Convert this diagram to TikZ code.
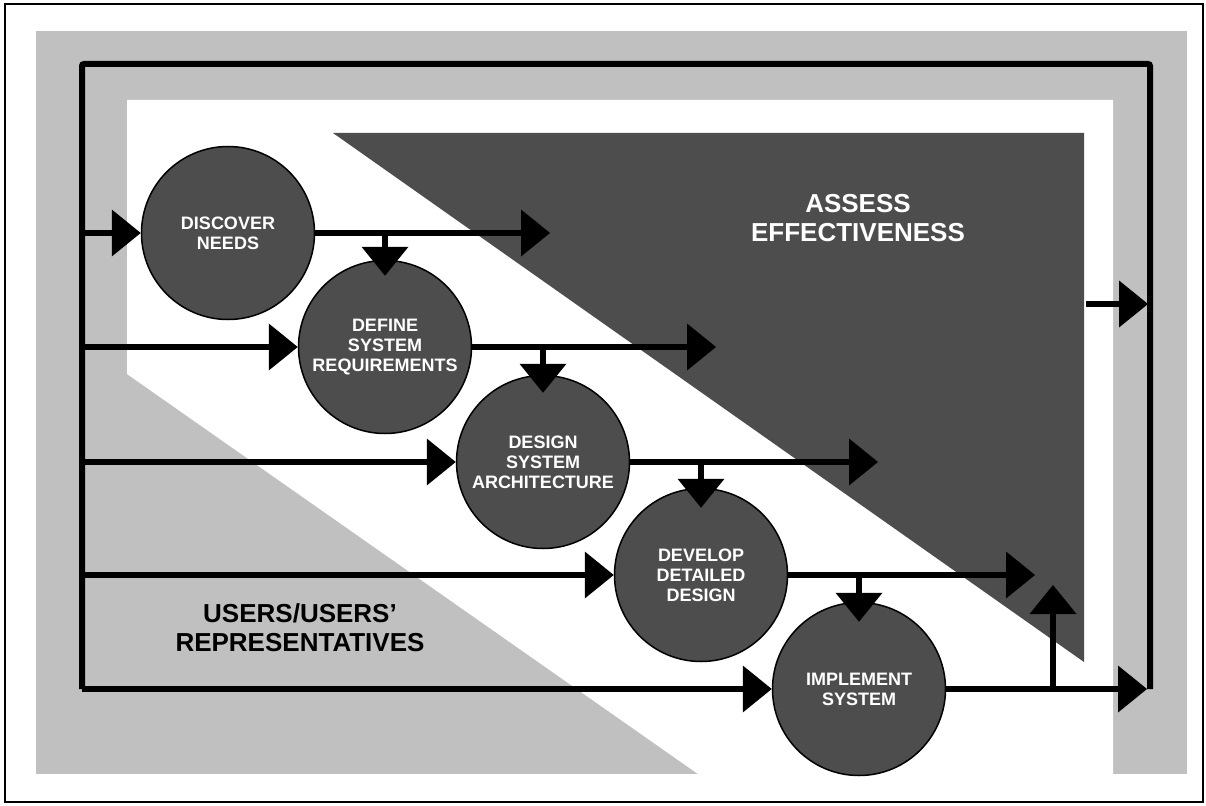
\documentclass[tikz,border=0pt]{standalone}
\usepackage{fontspec}
\setmainfont{Liberation Sans}
\usetikzlibrary{arrows.meta}
\definecolor{darkfill}{RGB}{77,77,77}
\definecolor{lightfill}{RGB}{192,192,192}
\begin{document}
\begin{tikzpicture}[x=1pt,y=-1pt,
    stage/.style={shape=circle,draw=black,line width=1.5pt,fill=darkfill,minimum size=173pt,inner sep=0pt,
        text=white,align=center,font=\bfseries\fontsize{18}{20}\selectfont},
    flow/.style={line width=6.5pt,-{Triangle[length=29pt,width=47pt,line width=0pt]}},
    bigtext/.style={align=center,font=\bfseries\fontsize{26}{29}\selectfont}]
            \useasboundingbox (0,0) rectangle (1206,805);
            \draw[line width=2pt] (5,4) rectangle (1203,802);

            % background areas
            \fill[lightfill] (36,31) rectangle (1187,774);
            \fill[white] (127,100) -- (1113,100) -- (1113,774) -- (698,774) -- (127,374) -- cycle;
            \fill[darkfill] (333,133) -- (1084,133) -- (1084,662) -- cycle;

            \node[bigtext,text=white] (AE) at (858,218) {ASSESS\\EFFECTIVENESS};
            \node[bigtext,text=black] (UR) at (300,628) {USERS/USERS'\\REPRESENTATIVES};

            % outer loop
            \coordinate (F1) at (82,689);
            \coordinate (F2) at (82,64);
            \coordinate (F3) at (1150,64);
            \coordinate (F4) at (1150,689);
            \draw[line width=6pt,rounded corners=2pt] (F1) -- (F2) -- (F3) -- (F4);

            \node[stage] (A) at (228,233) {DISCOVER\\NEEDS};
            \node[stage] (B) at (385,347) {DEFINE\\SYSTEM\\REQUIREMENTS};
            \node[stage] (C) at (543,462) {DESIGN\\SYSTEM\\ARCHITECTURE};
            \node[stage] (D) at (701,575) {DEVELOP\\DETAILED\\DESIGN};
            \node[stage] (E) at (859,689) {IMPLEMENT\\SYSTEM};

            \coordinate (I1) at (82,233);
            \coordinate (I2) at (82,347);
            \coordinate (I3) at (82,462);
            \coordinate (I4) at (82,575);
            \coordinate (O1) at (550,233);
            \coordinate (O2) at (716,347);
            \coordinate (O3) at (878,462);
            \coordinate (O4) at (1035,575);
            \coordinate (O5) at (1147,689);
            \coordinate (U1) at (1053,689);
            \coordinate (U2) at (1053,585);
            \coordinate (R1) at (1086,304);
            \coordinate (R2) at (1148,304);

            % inputs from the users
            \path[flow] (I1) edge (A.west);
            \path[flow] (I2) edge (B.west);
            \path[flow] (I3) edge (C.west);
            \path[flow] (I4) edge (D.west);
            \path[flow] (F1) edge (E.west);

            % outputs to the assessment
            \path[flow] (A.east) edge (O1);
            \path[flow] (B.east) edge (O2);
            \path[flow] (C.east) edge (O3);
            \path[flow] (D.east) edge (O4);
            \path[flow] (E.east) edge (O5);
            \path[flow] (U1) edge (U2);
            \path[flow] (R1) edge (R2);

            % step to step
            \path[flow] (A.east -| B.north) edge[shorten >=-16pt] (B.north);
            \path[flow] (B.east -| C.north) edge[shorten >=-18pt] (C.north);
            \path[flow] (C.east -| D.north) edge[shorten >=-20pt] (D.north);
            \path[flow] (D.east -| E.north) edge[shorten >=-20pt] (E.north);
        \end{tikzpicture}
\end{document}
